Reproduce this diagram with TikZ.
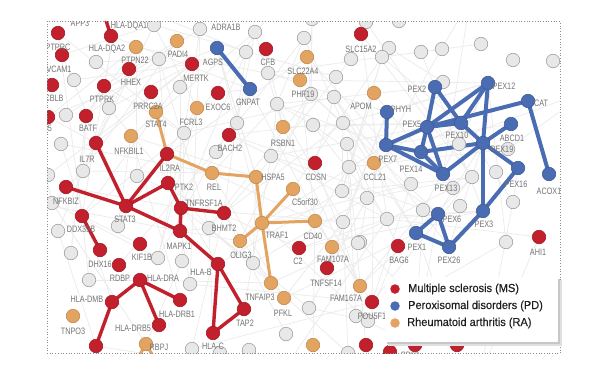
\documentclass[tikz,border=0pt]{standalone}
\usepackage{fontspec}
\setmainfont{Liberation Sans}
\newfontfamily\labfont{Liberation Sans}[FakeStretch=0.78]
\newfontfamily\legfont{Liberation Sans}[FakeStretch=0.95,FakeBold=0.3]
\usetikzlibrary{calc}
\pgfdeclarelayer{bgl}
\pgfdeclarelayer{edl}
\pgfsetlayers{bgl,edl,main}
\definecolor{msred}{RGB}{193,32,44}
\definecolor{pdblue}{RGB}{74,108,178}
\definecolor{raorange}{RGB}{227,164,98}
\definecolor{ndgray}{RGB}{232,232,232}
\definecolor{ndline}{RGB}{160,160,160}
\begin{document}
\begin{tikzpicture}[x=1pt,y=-1pt,
 nbase/.style={circle,inner sep=0pt,minimum size=13.5pt,line width=0.6pt},
 nodeG/.style={nbase,draw=ndline,fill=ndgray},
 nodeR/.style={nbase,draw=msred!85!black,fill=msred},
 nodeB/.style={nbase,draw=pdblue!85!black,fill=pdblue},
 nodeO/.style={nbase,draw=raorange!85!black,fill=raorange},
 lbl/.style={font=\labfont\fontsize{9.3}{10}\selectfont,text=black!55,inner sep=0pt},
 fe/.style={draw=black!8,line width=0.7pt},
 re/.style={draw=msred,line width=3.4pt},
 be/.style={draw=pdblue,line width=4pt},
 oe/.style={draw=raorange,line width=3pt},
 legdot/.style={circle,inner sep=0pt,minimum size=9.5pt},
 legtxt/.style={anchor=west,inner sep=0pt,font=\legfont\fontsize{11.6}{13}\selectfont,text=black!88}
]
\useasboundingbox (0,0) rectangle (600,375);

\begin{scope}
\clip (47,21) rectangle (560,353);
% gray nodes
\foreach \p [count=\i] in {(154,25),(96,62),(159,59),(74,80),(180,87),(109,108),(66,115),(200,29),(255,32),(304,38),(312,19),(366,22),(399,21),(246,52),(268,73),(336,77),(351,59),(311,94),(334,97),(277,104),(237,123),(313,125),(343,123),(389,48),(382,57),(421,52),(442,49),(481,44),(513,60),(553,61),(443,82),(459,144),(508,149),(453,188),(472,177),(496,172),(411,184),(367,198),(460,206),(513,202),(423,210),(387,219),(506,242),(360,242),(61,144),(83,171),(137,176),(184,133),(52,203),(48,175),(58,231),(118,226),(71,253),(216,152),(271,156),(347,144),(349,167),(342,191),(209,228),(343,222),(358,243),(158,258),(182,261),(89,280),(190,284),(253,263),(309,308),(356,316),(368,321),(286,334),(192,349),(249,350),(348,353),(220,353)}
  {\node[nodeG] (g\i) at \p {}; \xdef\G{\i}}
% red nodes (MS)
\node[nodeR] (ptprc) at (58,33) {};
\node[nodeR] (hladqa1) at (111,36) {};
\node[nodeR] (vcam1) at (62,55) {};
\node[nodeR] (hhex) at (129,69) {};
\node[nodeR] (cblb) at (52,85) {};
\node[nodeR] (ptprk) at (104,86) {};
\node[nodeR] (mertk) at (192,64) {};
\node[nodeR] (prrc2a) at (151,92) {};
\node[nodeR] (cd5) at (48,117) {};
\node[nodeR] (batf) at (86,116) {};
\node[nodeR] (cfb) at (266,49) {};
\node[nodeR] (slc15a2) at (361,34) {};
\node[nodeR] (exoc6) at (218,93) {};
\node[nodeR] (bach2) at (229,135) {};
\node[nodeR] (rx1) at (96,143) {};
\node[nodeR] (il2ra) at (167,154) {};
\node[nodeR] (nfkbiz) at (66,187) {};
\node[nodeR] (ptk2) at (168,183) {};
\node[nodeR] (stat3) at (126,206) {};
\node[nodeR] (tnfrsf1a) at (181,208) {};
\node[nodeR] (ddx39b) at (82,216) {};
\node[nodeR] (mapk1) at (180,231) {};
\node[nodeR] (bhmt2) at (224,213) {};
\node[nodeR] (cdsn) at (315,163) {};
\node[nodeR] (dhx16) at (100,250) {};
\node[nodeR] (kif1b) at (140,244) {};
\node[nodeR] (rdbp) at (119,265) {};
\node[nodeR] (hladra) at (140,280) {};
\node[nodeR] (hlab) at (218,264) {};
\node[nodeR] (c2) at (299,248) {};
\node[nodeR] (hladmb) at (112,302) {};
\node[nodeR] (hladrb1) at (180,300) {};
\node[nodeR] (tnfsf14) at (327,268) {};
\node[nodeR] (hladrb5) at (159,325) {};
\node[nodeR] (tap2) at (244,309) {};
\node[nodeR] (rx2) at (96,346) {};
\node[nodeR] (hlac) at (213,333) {};
\node[nodeR] (rx3) at (372,302) {};
\node[nodeR] (rx4) at (366,345) {};
\node[nodeR] (rx5) at (390,352) {};
\node[nodeR] (rx6) at (415,345) {};
\node[nodeR] (rx7) at (457,345) {};
\node[nodeR] (bag6) at (398,246) {};
\node[nodeR] (ahi1) at (539,237) {};
% blue nodes (PD)
\node[nodeB] (agps) at (217,48) {};
\node[nodeB] (gnpat) at (250,89) {};
\node[nodeB] (pex2) at (435,87) {};
\node[nodeB] (pex12) at (488,83) {};
\node[nodeB] (cat) at (528,101) {};
\node[nodeB] (phyh) at (387,112) {};
\node[nodeB] (pex5) at (427,127) {};
\node[nodeB] (pex10) at (461,123) {};
\node[nodeB] (abcd1) at (511,124) {};
\node[nodeB] (pex19) at (483,143) {};
\node[nodeB] (pex7) at (386,145) {};
\node[nodeB] (pex14) at (421,152) {};
\node[nodeB] (pex13) at (443,174) {};
\node[nodeB] (pex16) at (518,168) {};
\node[nodeB] (acox1) at (549,174) {};
\node[nodeB] (pex3) at (483,211) {};
\node[nodeB] (pex6) at (438,214) {};
\node[nodeB] (pex1) at (416,233) {};
\node[nodeB] (pex26) at (449,247) {};
% orange nodes (RA)
\node[nodeO] (ox1) at (136,47) {};
\node[nodeO] (padi4) at (177,41) {};
\node[nodeO] (slc22a4) at (307,57) {};
\node[nodeO] (ox2) at (300,80) {};
\node[nodeO] (apom) at (374,93) {};
\node[nodeO] (fcrl3) at (197,108) {};
\node[nodeO] (stat4) at (156,112) {};
\node[nodeO] (rsbn1) at (283,127) {};
\node[nodeO] (nfkbil1) at (131,136) {};
\node[nodeO] (rel) at (212,173) {};
\node[nodeO] (hspa5) at (256,177) {};
\node[nodeO] (ccl21) at (374,163) {};
\node[nodeO] (c5orf30) at (293,189) {};
\node[nodeO] (traf1) at (262,223) {};
\node[nodeO] (cd40) at (315,221) {};
\node[nodeO] (olig3) at (240,241) {};
\node[nodeO] (fam107a) at (332,247) {};
\node[nodeO] (tnfaip3) at (271,283) {};
\node[nodeO] (pfkl) at (284,298) {};
\node[nodeO] (ox3) at (360,286) {};
\node[nodeO] (tnpo3) at (73,316) {};
\node[nodeO] (rbpj) at (146,344) {};
\node[nodeO] (ox4) at (313,345) {};
% free ends outside the frame
\coordinate (ex1) at (20,60);
\coordinate (ex2) at (20,200);
\coordinate (ex3) at (20,310);
\coordinate (ex4) at (120,0);
\coordinate (ex5) at (280,0);
\coordinate (ex6) at (470,0);
\coordinate (ex7) at (590,90);
\coordinate (ex8) at (590,260);
\coordinate (ex9) at (100,375);
\coordinate (ex10) at (280,375);
\coordinate (ex11) at (480,375);
\coordinate (ex12) at (590,340);
\coordinate (dqtop) at (101,5);
\coordinate (rbl) at (128,375);
\coordinate (rbr) at (164,375);

% labels
\node[lbl] (tapp3) at (80,23) {APP3};
\node[lbl] (thladqa1) at (129,26) {HLA-DQA1};
\node[lbl] (tptprc) at (58,47) {PTPRC};
\node[lbl] (thladqa2) at (107,49) {HLA-DQA2};
\node[lbl] (tpadi4) at (178,54) {PADI4};
\node[lbl] (tptpn22) at (135,60) {PTPN22};
\node[lbl] (tvcam1) at (59,69) {VCAM1};
\node[lbl] (tmertk) at (196,78) {MERTK};
\node[lbl] (thhex) at (131,82) {HHEX};
\node[lbl] (tcblb) at (54,98) {CBLB};
\node[lbl] (tptprk) at (102,99) {PTPRK};
\node[lbl] (tprrc2a) at (148,106) {PRRC2A};
\node[lbl,anchor=east] (tcd5) at (52,128) {CD5};
\node[lbl] (tbatf) at (88,128) {BATF};
\node[lbl] (tstat4) at (156,124) {STAT4};
\node[lbl] (tfcrl3) at (191,122) {FCRL3};
\node[lbl] (texoc6) at (218,107) {EXOC6};
\node[lbl] (tadra1b) at (226,27) {ADRA1B};
\node[lbl] (tagps) at (213,62) {AGPS};
\node[lbl] (tcfb) at (268,62) {CFB};
\node[lbl] (tslc22a4) at (303,71) {SLC22A4};
\node[lbl] (tslc15a2) at (361,49) {SLC15A2};
\node[lbl] (tgnpat) at (248,102) {GNPAT};
\node[lbl] (tphf19) at (303,94) {PHF19};
\node[lbl] (tapom) at (361,106) {APOM};
\node[lbl] (tnfkbil1) at (129,151) {NFKBIL1};
\node[lbl] (til7r) at (87,159) {IL7R};
\node[lbl] (til2ra) at (170,168) {IL2RA};
\node[lbl] (tbach2) at (230,148) {BACH2};
\node[lbl] (trsbn1) at (283,143) {RSBN1};
\node[lbl] (tcdsn) at (316,177) {CDSN};
\node[lbl] (tccl21) at (375,177) {CCL21};
\node[lbl] (trel) at (214,187) {REL};
\node[lbl] (thspa5) at (273,177) {HSPA5};
\node[lbl] (tnfkbiz) at (66,201) {NFKBIZ};
\node[lbl] (tptk2) at (184,187) {PTK2};
\node[lbl] (tstat3) at (125,219) {STAT3};
\node[lbl] (ttnfrsf1a) at (204,203) {TNFRSF1A};
\node[lbl] (tc5orf30) at (305,202) {C5orf30};
\node[lbl] (tddx39b) at (81,229) {DDX39B};
\node[lbl] (tbhmt2) at (224,228) {BHMT2};
\node[lbl] (ttraf1) at (277,235) {TRAF1};
\node[lbl] (tcd40) at (313,236) {CD40};
\node[lbl] (tmapk1) at (179,246) {MAPK1};
\node[lbl] (tolig3) at (241,255) {OLIG3};
\node[lbl] (tc2) at (298,261) {C2};
\node[lbl] (tfam107a) at (333,259) {FAM107A};
\node[lbl] (tdhx16) at (100,264) {DHX16};
\node[lbl] (tkif1b) at (142,257) {KIF1B};
\node[lbl] (trdbp) at (120,278) {RDBP};
\node[lbl] (thladra) at (163,278) {HLA-DRA};
\node[lbl] (thlab) at (201,272) {HLA-B};
\node[lbl] (ttnfsf14) at (326,283) {TNFSF14};
\node[lbl] (ttnfaip3) at (260,297) {TNFAIP3};
\node[lbl] (tfam167a) at (346,298) {FAM167A};
\node[lbl] (tpfkl) at (283,313) {PFKL};
\node[lbl] (thladmb) at (87,299) {HLA-DMB};
\node[lbl] (thladrb1) at (177,314) {HLA-DRB1};
\node[lbl] (ttnpo3) at (73,331) {TNPO3};
\node[lbl] (thladrb5) at (133,328) {HLA-DRB5};
\node[lbl] (ttap2) at (245,323) {TAP2};
\node[lbl] (thlac) at (213,346) {HLA-C};
\node[lbl] (trbpj) at (159,347) {RBPJ};
\node[lbl] (tpou5f1) at (372,316) {POU5F1};
\node[lbl] (tcd58) at (410,355) {CD58};
\node[lbl] (tpex2) at (417,89) {PEX2};
\node[lbl] (tpex12) at (504,86) {PEX12};
\node[lbl] (tcat) at (541,103) {CAT};
\node[lbl] (tphyh) at (401,109) {PHYH};
\node[lbl] (tpex5) at (412,124) {PEX5};
\node[lbl] (tpex10) at (457,135) {PEX10};
\node[lbl] (tabcd1) at (512,138) {ABCD1};
\node[lbl] (tpex19) at (502,149) {PEX19};
\node[lbl] (tpex7) at (388,159) {PEX7};
\node[lbl] (tpex14) at (411,169) {PEX14};
\node[lbl] (tpex13) at (446,188) {PEX13};
\node[lbl] (tpex16) at (516,184) {PEX16};
\node[lbl] (tacox1) at (549,191) {ACOX1};
\node[lbl] (tpex3) at (484,224) {PEX3};
\node[lbl] (tpex6) at (452,219) {PEX6};
\node[lbl] (tpex1) at (417,247) {PEX1};
\node[lbl] (tpex26) at (449,260) {PEX26};
\node[lbl] (tbag6) at (399,260) {BAG6};
\node[lbl] (tahi1) at (538,252) {AHI1};
\end{scope}

% index all nodes for the faint background network
\foreach \nm [count=\i] in {ptprc,hladqa1,vcam1,hhex,cblb,ptprk,mertk,prrc2a,cd5,batf,cfb,slc15a2,exoc6,bach2,rx1,il2ra,nfkbiz,ptk2,stat3,tnfrsf1a,ddx39b,mapk1,bhmt2,cdsn,dhx16,kif1b,rdbp,hladra,hlab,c2,hladmb,hladrb1,tnfsf14,hladrb5,tap2,rx2,hlac,rx3,rx4,rx5,rx6,rx7,bag6,ahi1,agps,gnpat,pex2,pex12,cat,phyh,pex5,pex10,abcd1,pex19,pex7,pex14,pex13,pex16,acox1,pex3,pex6,pex1,pex26,ox1,padi4,slc22a4,ox2,apom,fcrl3,stat4,rsbn1,nfkbil1,rel,hspa5,ccl21,c5orf30,traf1,cd40,olig3,fam107a,tnfaip3,pfkl,ox3,tnpo3,rbpj,ox4,ex1,ex2,ex3,ex4,ex5,ex6,ex7,ex8,ex9,ex10,ex11,ex12}
  {\coordinate (v\i) at (\nm.center); \xdef\Nn{\i}}
\foreach \j in {1,...,\G}
  {\pgfmathtruncatemacro\k{\Nn+\j}\coordinate (v\k) at (g\j.center); \xdef\N{\k}}

\pgfmathsetseed{7}
\begin{pgfonlayer}{bgl}
\fill[white] (0,0) rectangle (600,375);
\begin{scope}
\clip (47,21) rectangle (560,353);
\foreach \t in {1,...,560}{
  \pgfmathrandominteger{\a}{1}{\N}
  \pgfmathrandominteger{\b}{1}{\N}
  \path let \p1=(v\a), \p2=(v\b) in \pgfextra{\pgfmathsetmacro\dd{veclen(\x2-\x1,\y2-\y1)}\global\let\gdd\dd};
  \ifdim\gdd pt<190pt \draw[fe] (v\a) -- (v\b);\fi
}
\end{scope}
\end{pgfonlayer}

\begin{pgfonlayer}{edl}
\begin{scope}
\clip (47,21) rectangle (560,353);
% MS connectors
\draw[re] (hladqa1.center) -- (dqtop);
\foreach \u/\w in {stat3/rx1,stat3/nfkbiz,stat3/il2ra,stat3/ptk2,stat3/mapk1,ptk2/tnfrsf1a,tnfrsf1a/mapk1,tnfrsf1a/bhmt2,mapk1/hlab,hlab/tap2,hlab/hlac,tap2/hlac,ddx39b/dhx16,hladra/hladmb,hladra/hladrb1,hladra/hladrb5,hladmb/rx2}
  \draw[re] (\u.center) -- (\w.center);
% RA connectors
\foreach \u/\w in {stat4/il2ra,il2ra/rel,rel/hspa5,hspa5/traf1,traf1/c5orf30,traf1/cd40,traf1/olig3,traf1/tnfaip3}
  \draw[oe] (\u.center) -- (\w.center);
\draw[oe] (rbpj.center) -- (rbl);
\draw[oe] (rbpj.center) -- (rbr);
% PD connectors
\foreach \u/\w in {agps/gnpat,phyh/pex7,pex2/pex5,pex2/pex10,pex12/pex5,pex12/pex10,pex12/pex19,cat/pex5,cat/acox1,pex5/pex7,pex5/pex14,pex5/pex13,pex5/pex10,pex7/pex14,pex7/pex13,pex14/pex19,pex14/pex13,pex13/pex19,pex10/pex19,pex19/abcd1,pex19/pex16,pex19/pex3,pex16/pex3,pex3/pex26,pex26/pex1,pex26/pex6,pex6/pex1}
  \draw[be] (\u.center) -- (\w.center);
\end{scope}
\end{pgfonlayer}

% dotted frame
\draw[black!45,dotted,line width=0.7pt] (47,21) rectangle (560,353);

% legend
\fill[black!12] (388,280) rectangle (562,346);
\fill[black!22] (387,279) rectangle (560,344);
\fill[white] (385,277) rectangle (558,342);
\node[legdot,fill=msred] (kms) at (395,289) {};
\node[legdot,fill=pdblue] (kpd) at (395,306) {};
\node[legdot,fill=raorange] (kra) at (395,323) {};
\node[legtxt] (lms) at (408,289) {Multiple sclerosis (MS)};
\node[legtxt] (lpd) at (408,306) {Peroxisomal disorders (PD)};
\node[legtxt] (lra) at (407,323) {Rheumatoid arthritis (RA)};
\end{tikzpicture}
\end{document}
